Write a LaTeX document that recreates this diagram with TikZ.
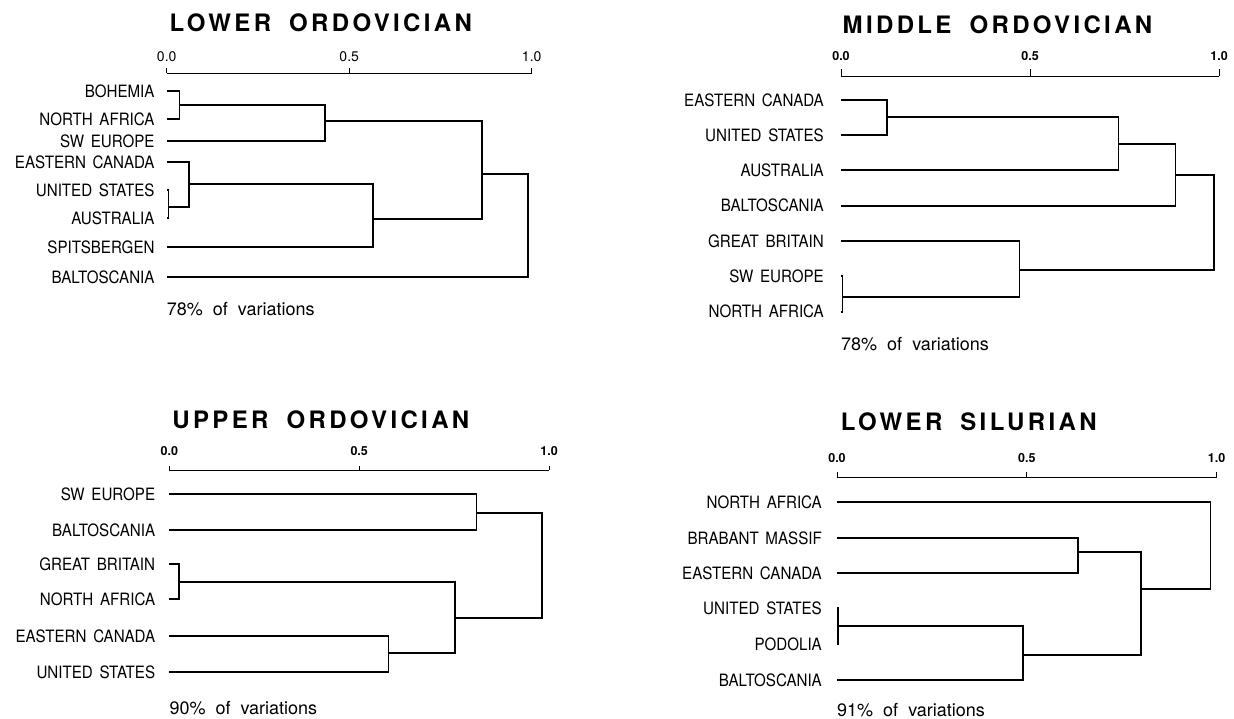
\documentclass[tikz,border=0pt]{standalone}
\usepackage{fontspec}
\setmainfont{TeX Gyre Heros}
\newfontfamily\titlefont[LetterSpace=14,WordSpace=1.8]{TeX Gyre Heros}
\newfontfamily\namefont[FakeStretch=0.89,WordSpace=1.6]{TeX Gyre Heros}
\newfontfamily\notefont[WordSpace=2]{TeX Gyre Heros}
\usepackage{tikz}
\usetikzlibrary{positioning}
\tikzstyle{branch} = [line width=1.8pt]
\tikzstyle{axis} = [line width=1pt]
\tikzstyle{leaf} = [
    anchor=east, inner xsep=12pt, inner ysep=0pt, text height=12pt, text depth=0pt,
    font=\namefont\fontsize{17}{19}\selectfont]
\tikzstyle{heading} = [inner sep=0pt, font=\titlefont\bfseries\fontsize{24}{28}\selectfont]
\tikzstyle{scalemark} = [inner sep=0pt, font=\bfseries\fontsize{12.5}{14}\selectfont]
\tikzstyle{note} = [anchor=west, inner sep=0pt, font=\notefont\fontsize{18}{20}\selectfont]

\begin{document}
\begin{tikzpicture}[x=1pt, y=-1pt]
\useasboundingbox[fill=white] (0,0) rectangle (1234,718);

% lower ordovician
\begin{scope}[shift={(166.7,0)}, x=365pt]
\node (lo-title) [heading] at (0.422,23) {LOWER ORDOVICIAN};
\draw [axis] (0,73.3) -- (1,73.3);
\foreach \t/\lab [count=\i] in {0/0.0, 0.5/0.5, 1/1.0} {
    \draw [axis] (\t,73.3) -- (\t,68);
    \node (lo-mark\i) [scalemark, font=\fontsize{14}{16}\selectfont] at (\t,56.7) {\lab};
}
\node (lo-boh) [leaf] at (0,91) {BOHEMIA};
\node (lo-naf) [leaf] at (0,119) {NORTH AFRICA};
\node (lo-swe) [leaf] at (0,141) {SW EUROPE};
\node (lo-eca) [leaf] at (0,162) {EASTERN CANADA};
\node (lo-uns) [leaf] at (0,190) {UNITED STATES};
\node (lo-aus) [leaf] at (0,218) {AUSTRALIA};
\node (lo-spi) [leaf] at (0,247) {SPITSBERGEN};
\node (lo-bal) [leaf] at (0,277) {BALTOSCANIA};
\coordinate (lo-m1) at (0.035,105);
\coordinate (lo-m2) at (0.434,120.7);
\coordinate (lo-m3) at (0.005,206.7);
\coordinate (lo-m4) at (0.06,184.3);
\coordinate (lo-m5) at (0.566,219);
\coordinate (lo-m6) at (0.863,174.3);
\coordinate (lo-m7) at (0.99,225);
\draw [branch] (lo-boh.east) -| (lo-m1) |- (lo-naf.east);
\draw [branch] (lo-m1) -| (lo-m2) |- (lo-swe.east);
\draw [branch] (lo-uns.east) -| (lo-m3) |- (lo-aus.east);
\draw [branch] (lo-eca.east) -| (lo-m4) |- (lo-m3);
\draw [branch] (lo-m4) -| (lo-m5) |- (lo-spi.east);
\draw [branch] (lo-m2) -| (lo-m6) |- (lo-m5);
\draw [branch] (lo-m6) -| (lo-m7) |- (lo-bal.east);
\node (lo-note) [note] at (0,309.3) {78\% of variations};
\end{scope}

% middle ordovician
\begin{scope}[shift={(841,0)}, x=378pt, leaf/.append style={inner xsep=17pt}]
\node (mo-title) [heading] at (0.414,25) {MIDDLE ORDOVICIAN};
\draw [axis] (0,76) -- (1,76);
\foreach \t/\lab [count=\i] in {0/0.0, 0.5/0.5, 1/1.0} {
    \draw [axis] (\t,76) -- (\t,69.3);
    \node (mo-mark\i) [scalemark] at (\t,56) {\lab};
}
\node (mo-eca) [leaf] at (0,100) {EASTERN CANADA};
\node (mo-uns) [leaf] at (0,135) {UNITED STATES};
\node (mo-aus) [leaf] at (0,170) {AUSTRALIA};
\node (mo-bal) [leaf] at (0,205.7) {BALTOSCANIA};
\node (mo-gbr) [leaf] at (0,241) {GREAT BRITAIN};
\node (mo-swe) [leaf] at (0,276) {SW EUROPE};
\node (mo-naf) [leaf] at (0,311.7) {NORTH AFRICA};
\coordinate (mo-m1) at (0.121,117.3);
\coordinate (mo-m2) at (0.734,144);
\coordinate (mo-m3) at (0.885,175);
\coordinate (mo-m4) at (0.004,297.3);
\coordinate (mo-m5) at (0.472,270);
\coordinate (mo-m6) at (0.987,222);
\draw [branch] (mo-eca.east) -| (mo-m1) |- (mo-uns.east);
\draw [branch] (mo-m1) -| (mo-m2) |- (mo-aus.east);
\draw [branch] (mo-m2) -| (mo-m3) |- (mo-bal.east);
\draw [branch] (mo-swe.east) -| (mo-m4) |- (mo-naf.east);
\draw [branch] (mo-gbr.east) -| (mo-m5) |- (mo-m4);
\draw [branch] (mo-m3) -| (mo-m6) |- (mo-m5);
\node (mo-note) [note] at (0,344) {78\% of variations};
\end{scope}

% upper ordovician
\begin{scope}[shift={(169.3,0)}, x=379.8pt, leaf/.append style={inner xsep=14pt}]
\node (uo-title) [heading] at (0.399,420) {UPPER ORDOVICIAN};
\draw [axis] (0,470) -- (1,470);
\foreach \t/\lab [count=\i] in {0/0.0, 0.5/0.5, 1/1.0} {
    \draw [axis] (\t,470) -- (\t,465.5);
    \node (uo-mark\i) [scalemark] at (\t,451) {\lab};
}
\node (uo-swe) [leaf] at (0,494) {SW EUROPE};
\node (uo-bal) [leaf] at (0,530) {BALTOSCANIA};
\node (uo-gbr) [leaf] at (0,564) {GREAT BRITAIN};
\node (uo-naf) [leaf] at (0,599) {NORTH AFRICA};
\node (uo-eca) [leaf] at (0,636) {EASTERN CANADA};
\node (uo-uns) [leaf] at (0,672) {UNITED STATES};
\coordinate (uo-m1) at (0.809,513);
\coordinate (uo-m2) at (0.025,582);
\coordinate (uo-m3) at (0.577,653);
\coordinate (uo-m4) at (0.752,618);
\coordinate (uo-m5) at (0.981,565);
\draw [branch] (uo-swe.east) -| (uo-m1) |- (uo-bal.east);
\draw [branch] (uo-gbr.east) -| (uo-m2) |- (uo-naf.east);
\draw [branch] (uo-eca.east) -| (uo-m3) |- (uo-uns.east);
\draw [branch] (uo-m2) -| (uo-m4) |- (uo-m3);
\draw [branch] (uo-m1) -| (uo-m5) |- (uo-m4);
\node (uo-note) [note] at (0,708) {90\% of variations};
\end{scope}

% lower silurian
\begin{scope}[shift={(837,0)}, x=379.5pt, leaf/.append style={inner xsep=15pt}]
\node (ls-title) [heading] at (0.347,422) {LOWER SILURIAN};
\draw [axis] (0,477) -- (1,477);
\foreach \t/\lab [count=\i] in {0/0.0, 0.5/0.5, 1/1.0} {
    \draw [axis] (\t,477) -- (\t,472);
    \node (ls-mark\i) [scalemark] at (\t,458) {\lab};
}
\node (ls-naf) [leaf] at (0,502) {NORTH AFRICA};
\node (ls-bra) [leaf] at (0,538) {BRABANT MASSIF};
\node (ls-eca) [leaf] at (0,573) {EASTERN CANADA};
\node (ls-uns) [leaf] at (0,608) {UNITED STATES};
\node (ls-pod) [leaf] at (0,644) {PODOLIA};
\node (ls-bal) [leaf] at (0,680) {BALTOSCANIA};
\coordinate (ls-m1) at (0.636,552);
\coordinate (ls-m2) at (0.003,626);
\coordinate (ls-m3) at (0.49,655);
\coordinate (ls-m4) at (0.80,589);
\coordinate (ls-m5) at (0.984,545);
\draw [branch] (ls-bra.east) -| (ls-m1) |- (ls-eca.east);
\draw [branch] (ls-uns.east) -| (ls-m2) |- (ls-pod.east);
\draw [branch] (ls-m2) -| (ls-m3) |- (ls-bal.east);
\draw [branch] (ls-m1) -| (ls-m4) |- (ls-m3);
\draw [branch] (ls-naf.east) -| (ls-m5) |- (ls-m4);
\node (ls-note) [note] at (0,710) {91\% of variations};
\end{scope}
\end{tikzpicture}
\end{document}
